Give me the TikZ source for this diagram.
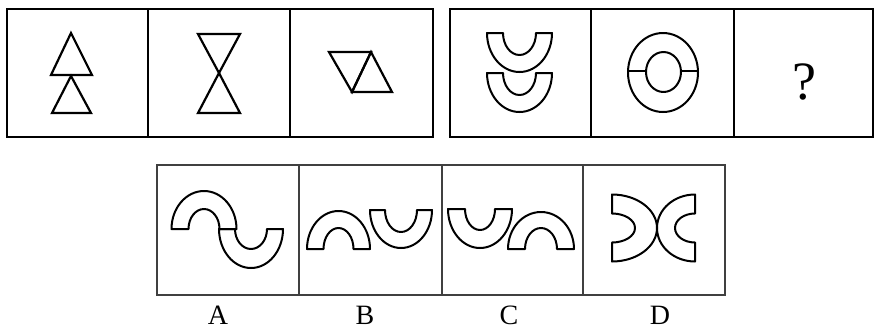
\documentclass[tikz,border=0pt]{standalone}
\usepackage{fontspec}
\setmainfont{Liberation Serif}
\begin{document}
\begin{tikzpicture}[x=1pt,y=-1pt,
  frame/.style={line width=2.6pt,draw=black},
  lowframe/.style={line width=1.5pt,draw=black!75},
  fig/.style={line width=2.2pt,draw=black,line join=miter},
  ring/.style={line width=2pt,draw=black,line join=round},
  lbl/.style={font=\fontsize{28}{28}\selectfont,anchor=north,inner sep=0pt}]
\useasboundingbox (0,0) rectangle (875,333);
\fill[white] (0,0) rectangle (875,333);
% half ring: #1 cx,#2 cy,#3 rotation,#4 orx,#5 ory,#6 irx,#7 iry
\newcommand{\halfring}[7]{%
  \draw[ring,shift={(#1,#2)},rotate=#3]
    (-#4,0) arc[start angle=180,end angle=0,x radius=#4,y radius=#5]
    -- (#6,0) arc[start angle=0,end angle=180,x radius=#6,y radius=#7] -- cycle;}
% ---- top left panel
\draw[frame] (7,9) rectangle (433,137);
\draw[frame] (148,9) -- (148,137);
\draw[frame] (290,9) -- (290,137);
\draw[fig] (71,33) -- (92,75) -- (51,75) -- cycle;
\draw[fig] (71,76) -- (91,113) -- (52,113) -- cycle;
\draw[fig] (198,34) -- (240,34) -- (219,73) -- cycle;
\draw[fig] (219,73) -- (240,113) -- (198,113) -- cycle;
\draw[fig] (329,52) -- (371,52) -- (352,92) -- cycle;
\draw[fig] (371,52) -- (392,92) -- (352,92) -- cycle;
% ---- top right panel
\draw[frame] (450,9) rectangle (873,137);
\draw[frame] (591,9) -- (591,137);
\draw[frame] (734,9) -- (734,137);
\halfring{519.5}{33}{0}{32.5}{39}{16.5}{22}
\halfring{519.5}{73}{0}{32.5}{39}{16.5}{22}
\draw[ring] (663,72.5) ellipse[x radius=35,y radius=39.5];
\draw[ring] (663.5,72) ellipse[x radius=17.5,y radius=20];
\draw[ring] (628,71) -- (646,71);
\draw[ring] (681,71) -- (698,71);
\node[font=\fontsize{54}{54}\selectfont,inner sep=0pt] (q) at (804,82) {?};
% ---- bottom panel
\draw[lowframe] (157,165) rectangle (725,295);
\draw[lowframe] (299,165) -- (299,295);
\draw[lowframe] (442,165) -- (442,295);
\draw[lowframe] (583,165) -- (583,295);
% A
\halfring{204}{229}{180}{32.5}{38}{15.5}{20}
\halfring{251}{229}{0}{32}{39}{16}{20}
% B
\halfring{338.5}{249}{180}{31.5}{38}{15}{21}
\halfring{401}{210}{0}{31}{38}{16}{22}
% C
\halfring{480}{209}{0}{32}{39}{15}{21}
\halfring{541}{249}{180}{33}{37}{16}{21}
% D
\halfring{612}{228}{90}{33.5}{45}{14.5}{23}
\halfring{695}{228}{-90}{33.5}{38}{14.5}{20}
% labels
\node[lbl] (la) at (218,306) {A};
\node[lbl] (lb) at (365,306) {B};
\node[lbl] (lc) at (509,306) {C};
\node[lbl] (ld) at (660,306) {D};
\end{tikzpicture}
\end{document}
